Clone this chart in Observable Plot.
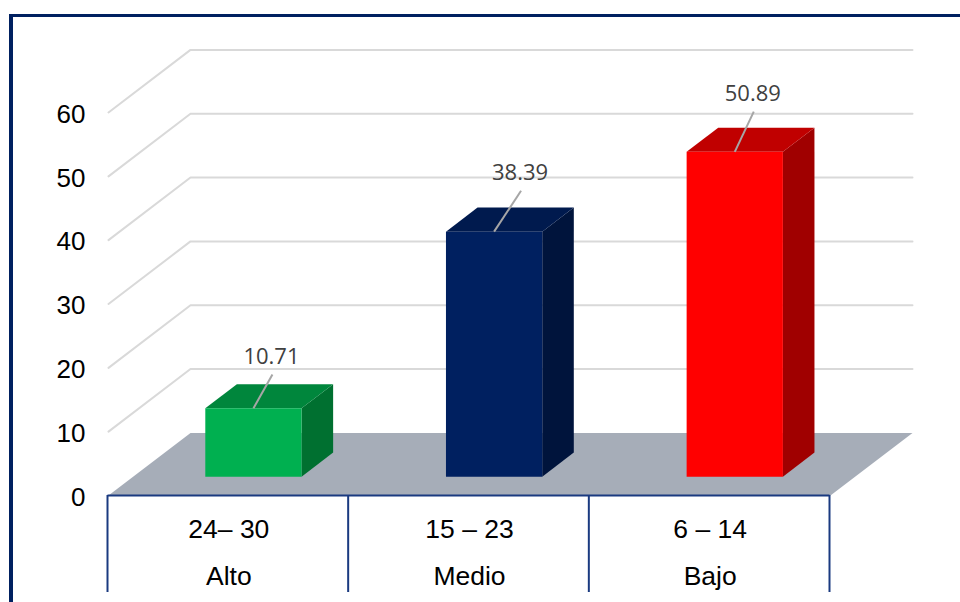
<!DOCTYPE html>
<html>
<head>
<meta charset="utf-8">
<script src="https://cdn.jsdelivr.net/npm/d3@7"></script>
<script src="https://cdn.jsdelivr.net/npm/@observablehq/plot@0.6"></script>
<style>
html,body{margin:0;padding:0;background:#fff;width:960px;height:602px;overflow:hidden}
#frame{position:absolute;left:9px;top:14px;width:951px;height:588px;border-left:4px solid #002060;border-top:3px solid #002060;box-sizing:border-box}
#chart{position:absolute;left:0;top:0;width:960px;height:602px}
#chart svg{display:block;background:transparent}
</style>
</head>
<body>
<div id="frame"></div>
<div id="chart"></div>
<script>
const rangos = ["24\u2013 30", "15 \u2013 23", "6 \u2013 14"];
const niveles = ["Alto", "Medio", "Bajo"];
const valores = [10.71, 38.39, 50.89];
const frontColors = ["#00b050", "#002060", "#ff0000"];
const topColors = ["#00863c", "#001a4e", "#c00000"];
const sideColors = ["#007030", "#00143c", "#a00000"];
const yTicks = [0, 10, 20, 30, 40, 50, 60];
const gridTicks = [10, 20, 30, 40, 50, 60];
const leaderX = [0.079, 0.112, 0.079];
const leaderY = [5.3, 6.4, 6.3];

// oblique projection: depth 0 = front plane, depth 1 = back wall
const depthX = 0.3407, depthY = 9.81;
const px = (u, d) => u + d * depthX;
const py = (v, d) => v + d * depthY;
const d0 = 0.3, d1 = 0.685, half = 0.2;
const poly = (pts) => pts.map(([u, v, d]) => ({x: px(u, d), y: py(v, d)}));
const face = (pts, fill) => Plot.line(poly(pts), {x: "x", y: "y", fill, stroke: "none"});

const marks = [];
// back-wall and side-wall gridlines
for (const t of gridTicks) {
  marks.push(Plot.line(poly([[0, t, 0], [0, t, 1], [3, t, 1]]), {x: "x", y: "y", stroke: "#d9d9d9", strokeWidth: 2}));
}
// floor
marks.push(face([[0, 0, 0], [3, 0, 0], [3, 0, 1], [0, 0, 1]], "#a6adb8"));
// bars
valores.forEach((v, i) => {
  const l = i + 0.5 - half, r = i + 0.5 + half;
  marks.push(face([[r, 0, d0], [r, 0, d1], [r, v, d1], [r, v, d0]], sideColors[i]));
  marks.push(face([[l, v, d0], [r, v, d0], [r, v, d1], [l, v, d1]], topColors[i]));
  marks.push(face([[l, 0, d0], [r, 0, d0], [r, v, d0], [l, v, d0]], frontColors[i]));
});
// leaders and value labels
const labels = valores.map((v, i) => ({
  x1: px(i + 0.5, d0), y1: py(v, d0),
  x2: px(i + 0.5, d0) + leaderX[i], y2: py(v, d0) + leaderY[i],
  text: v.toFixed(2)
}));
marks.push(Plot.link(labels, {x1: "x1", y1: "y1", x2: "x2", y2: "y2", stroke: "#a6a6a6", strokeWidth: 2}));
marks.push(Plot.text(labels, {x: "x2", y: "y2", text: "text", dx: -1, dy: -18, fontSize: 22, fontFamily: "Open Sans", fill: "#404040", lineAnchor: "middle"}));
// table under the axis
const cats = rangos.map((r, i) => ({x: i + 0.5, r, n: niveles[i]}));
marks.push(Plot.ruleX([0, 1, 2, 3], {y1: 0, y2: -15.2, dx: -1, stroke: "#1a3a80", strokeWidth: 2}));
marks.push(Plot.ruleY([0], {x1: 0, x2: 3, dx: -0.5, stroke: "#1a3a80", strokeWidth: 2}));
marks.push(Plot.text(cats, {x: "x", y: () => 0, text: "r", dy: 34, fontSize: 26.5, fontFamily: "Liberation Sans", fill: "#000", lineAnchor: "middle"}));
marks.push(Plot.text(cats, {x: "x", y: () => 0, text: "n", dy: 81, fontSize: 26.5, fontFamily: "Liberation Sans", fill: "#000", lineAnchor: "middle"}));
// value axis
marks.push(Plot.axisY(yTicks, {anchor: "left", tickSize: 0, tickPadding: 23, dy: 2, fontSize: 26, fontFamily: "Liberation Sans", color: "#000", label: null}));

const chart = Plot.plot({
  width: 960, height: 602,
  marginLeft: 108, marginRight: 130, marginTop: 112, marginBottom: 107,
  x: {type: "linear", domain: [0, 3], axis: null},
  y: {type: "linear", domain: [0, 60]},
  style: {background: "transparent", fontFamily: "Liberation Sans"},
  marks
});
document.getElementById("chart").appendChild(chart);
</script>
</body>
</html>
